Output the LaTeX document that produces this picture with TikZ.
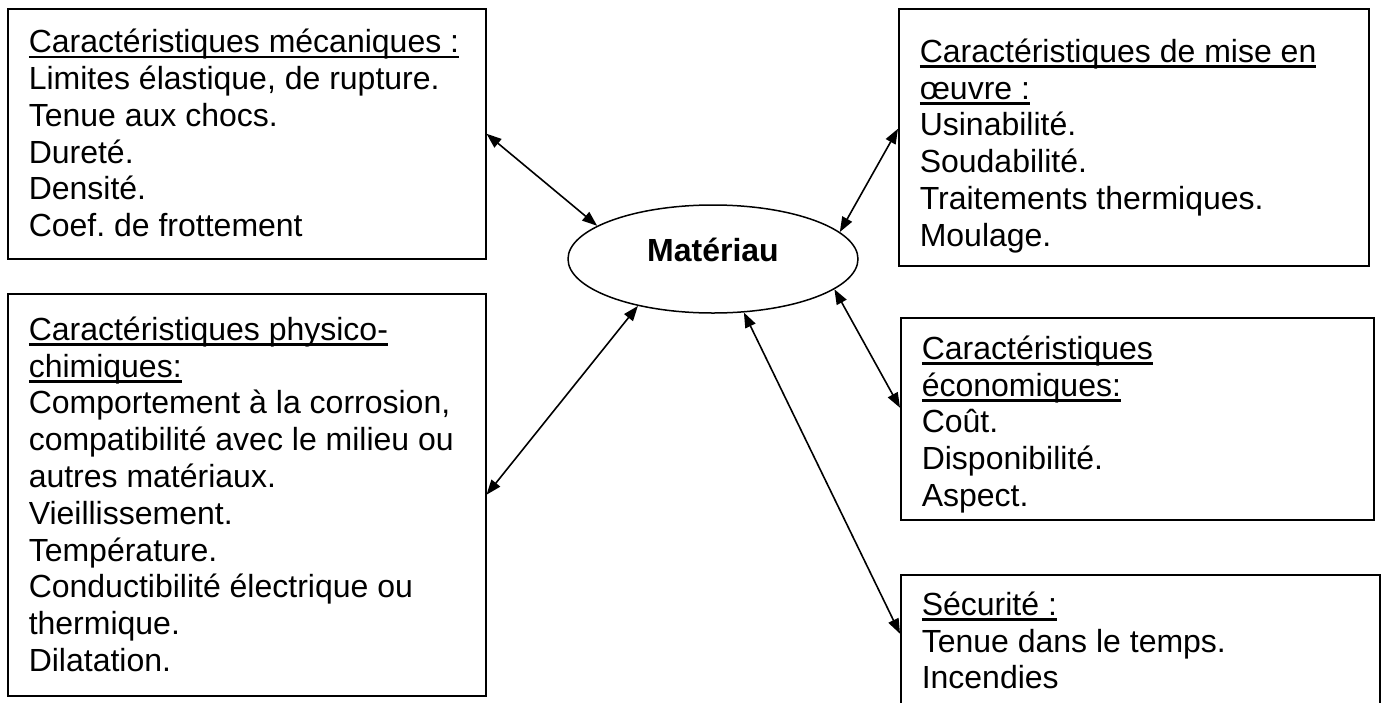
\documentclass[tikz,border=0pt]{standalone}
\usepackage{fontspec}
\setmainfont{Liberation Sans}
\usetikzlibrary{arrows.meta,shapes.geometric}
\frenchspacing
\newcommand{\corps}{\fontsize{32}{36.8}\selectfont}
\newsavebox{\soulbox}
\newcommand{\souligne}[1]{\leavevmode\sbox{\soulbox}{#1}\rlap{\rule[-5.5pt]{\wd\soulbox}{2.4pt}}\usebox{\soulbox}}
% height, first baseline, width, lines
\newcommand{\contenu}[4]{\parbox[t][#1][t]{#3}{\raggedright\rule{0pt}{#2}#4}}
\tikzset{
  cadre/.style={draw=black,line width=1.5pt,anchor=north west,inner xsep=21pt,inner ysep=0pt,font=\corps}, % text box
  bulle/.style={ellipse,draw=black,line width=1.5pt,minimum width=290pt,minimum height=108pt,font=\corps\bfseries,text depth=18.7pt},
  fleche/.style={{Triangle[length=15pt,width=11pt]}-{Triangle[length=15pt,width=11pt]},line width=1.6pt},
}

\begin{document}
\begin{tikzpicture}[x=1pt,y=-1pt]
  \useasboundingbox (0,0) rectangle (1381,702);
  % centre
  \node[bulle] (mat) at (713,259) {Matériau};
  % left column
  \node[cadre] (meca) at (7,8) {\contenu{250pt}{44pt}{436pt}{%
    \souligne{Caractéristiques mécaniques :}\\
    Limites élastique, de rupture.\\
    Tenue aux chocs.\\
    Dureté.\\
    Densité.\\
    Coef. de frottement}};
  \node[cadre] (physico) at (7,293) {\contenu{402pt}{46.5pt}{436pt}{%
    \souligne{Caractéristiques physico-}\\
    \souligne{chimiques:}\\
    Comportement à la corrosion,\\
    compatibilité avec le milieu ou\\
    autres matériaux.\\
    Vieillissement.\\
    Température.\\
    Conductibilité électrique ou\\
    thermique.\\
    Dilatation.}};
  % right column
  \node[cadre] (mise) at (898,8) {\contenu{257pt}{53.5pt}{428pt}{%
    \souligne{Caractéristiques de mise en}\\
    \souligne{œuvre :}\\
    Usinabilité.\\
    Soudabilité.\\
    Traitements thermiques.\\
    Moulage.}};
  \node[cadre] (eco) at (900,317) {\contenu{202pt}{41.5pt}{431pt}{%
    \souligne{Caractéristiques}\\
    \souligne{économiques:}\\
    Coût.\\
    Disponibilité.\\
    Aspect.}};
  \node[cadre] (secu) at (900,574) {\contenu{140pt}{40.5pt}{437pt}{%
    \souligne{Sécurité :}\\
    Tenue dans le temps.\\
    Incendies}};
  % links
  \draw[fleche] (meca.east) -- (mat.164);
  \draw[fleche] ([yshift=8.5pt]mise.west) -- (mat.12);
  \draw[fleche] (physico.east) -- (mat.212);
  \draw[fleche] (mat.-14) -- ([yshift=11pt]eco.west);
  \draw[fleche] (mat.-60) -- ([yshift=11pt]secu.west);
\end{tikzpicture}
\end{document}
